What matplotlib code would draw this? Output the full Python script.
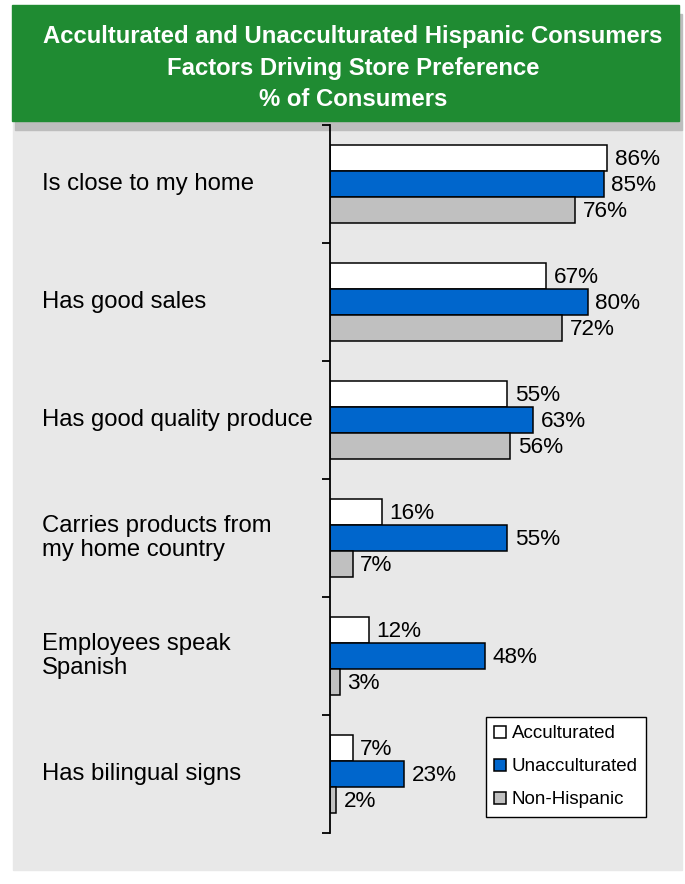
import matplotlib
matplotlib.use("Agg")
import matplotlib.pyplot as plt
import matplotlib.transforms as mtransforms
from matplotlib.patches import Rectangle, Patch
import numpy as np

plt.rcParams['font.family'] = ['Liberation Sans', 'DejaVu Sans']

categories = ["Is close to my home", "Has good sales", "Has good quality produce",
              "Carries products from\nmy home country", "Employees speak\nSpanish",
              "Has bilingual signs"]
series_names = ["Acculturated", "Unacculturated", "Non-Hispanic"]
acculturated = [86, 67, 55, 16, 12, 7]
unacculturated = [85, 80, 63, 55, 48, 23]
non_hispanic = [76, 72, 56, 7, 3, 2]
title_lines = ["Acculturated and Unacculturated Hispanic Consumers",
               "Factors Driving Store Preference",
               "% of Consumers"]

colors = ["#FFFFFF", "#0066CC", "#C0C0C0"]

W, H = 685, 884
def fx(px):
    return px / W
def fy(py):
    return 1 - py / H

fig = plt.figure(figsize=(W / 100, H / 100), dpi=100)

# background panel, header shadow and green header
fig.add_artist(Rectangle((fx(13), fy(870)), (682 - 13) / W, (870 - 121) / H,
                         transform=fig.transFigure, color="#E8E8E8", zorder=0))
fig.add_artist(Rectangle((fx(15), fy(130)), (682 - 15) / W, (130 - 14) / H,
                         transform=fig.transFigure, color="#BDBDBD", zorder=0))
fig.add_artist(Rectangle((fx(12), fy(121)), (679 - 12) / W, (121 - 5) / H,
                         transform=fig.transFigure, color="#1F8B32", zorder=0))
for line, py in zip(title_lines, [37, 68, 100]):
    fig.text(fx(353), fy(py), line, ha="center", va="center", color="white",
             fontsize=17.2, fontweight="bold")

ax = fig.add_axes([fx(330), fy(833), 322 / W, (833 - 125) / H])
ax.set_facecolor("none")

y = np.arange(len(categories))
bar_h = 0.22
for vals, off, col in zip([acculturated, unacculturated, non_hispanic],
                          [-bar_h, 0, bar_h], colors):
    ax.barh(y + off, vals, height=bar_h, color=col, edgecolor="black",
            linewidth=1.1, zorder=2)
    for yi, v in zip(y, vals):
        ax.text(v + 2.4, yi + off + 0.01, f"{v}%", ha="left", va="center",
                fontsize=16.2, clip_on=False)

ax.set_xlim(0, 100)
ax.set_ylim(len(categories) - 0.5, -0.5)
for s in ["top", "right", "bottom"]:
    ax.spines[s].set_visible(False)
ax.spines["left"].set_linewidth(1.3)
ax.set_xticks([])
ax.set_yticks(np.arange(-0.5, len(categories)))
ax.set_yticklabels([])
ax.tick_params(axis="y", direction="out", length=6, width=1.3)

# category labels, left aligned in the panel
trans = mtransforms.blended_transform_factory(fig.transFigure, ax.transData)
for yi, cat in zip(y, categories):
    ax.text(fx(42), yi, cat, transform=trans, ha="left", va="center",
            fontsize=17.2, linespacing=1.1)

handles = [Patch(facecolor=c, edgecolor="black", linewidth=1.1) for c in colors]
leg = fig.legend(handles, series_names, loc="upper left",
                 bbox_to_anchor=(fx(486), fy(717)), frameon=True, fancybox=False,
                 edgecolor="black", framealpha=1, fontsize=13.5,
                 handlelength=0.62, handleheight=0.62, handletextpad=0.3,
                 labelspacing=0.85, borderpad=0.45, borderaxespad=0)
leg.get_frame().set_linewidth(1.0)

fig.savefig("out.png", dpi=100, facecolor="white")
